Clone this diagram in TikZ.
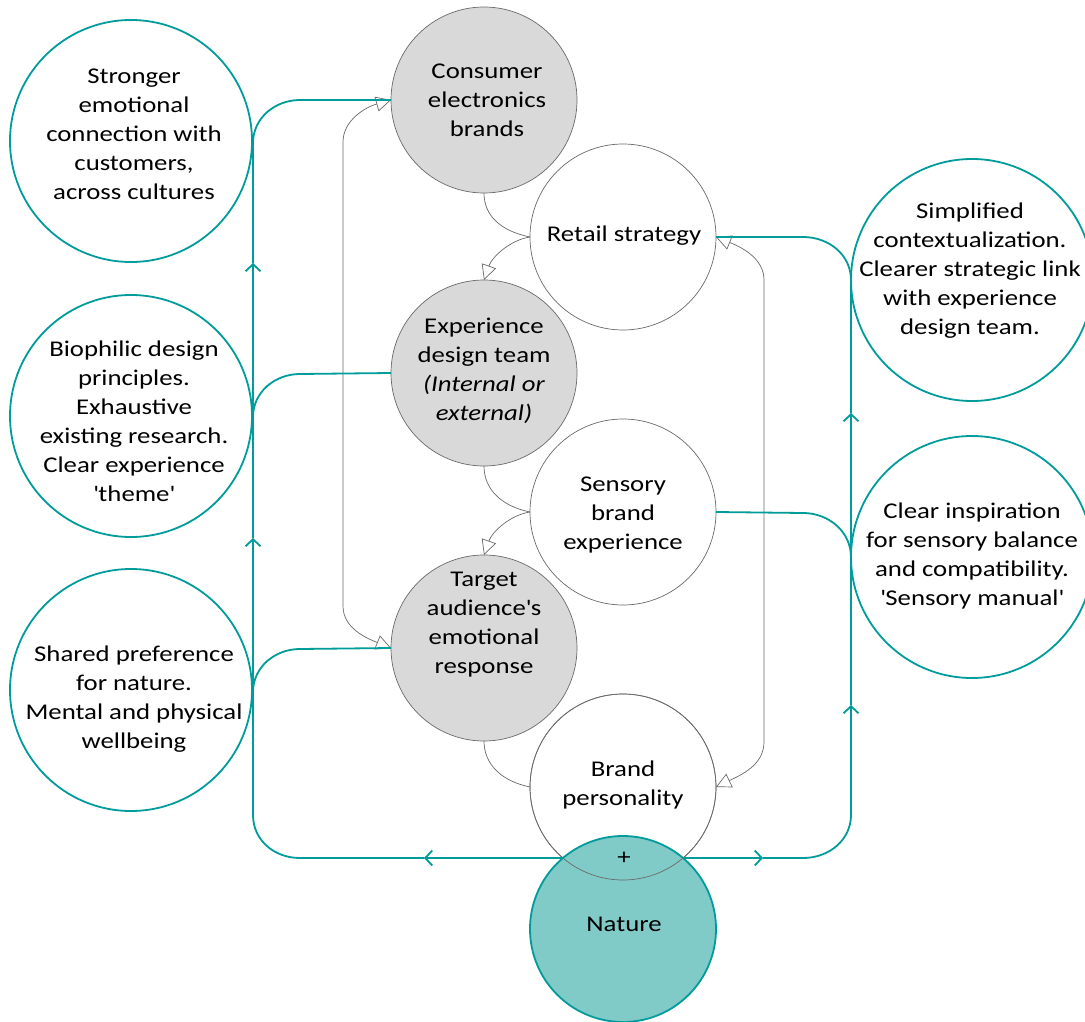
\documentclass[tikz,border=0pt]{standalone}
\usepackage{fontspec}
\setmainfont{Carlito}[FakeStretch=1.19]
\usetikzlibrary{arrows.meta,calc}
\definecolor{tealc}{RGB}{0,155,155}
\definecolor{natfill}{RGB}{128,203,200}
\definecolor{greyfill}{RGB}{217,217,217}
\definecolor{greyline}{RGB}{105,105,105}
\newcommand{\sq}{\textquotesingle}
\begin{document}
\begin{tikzpicture}[x=1pt,y=-1pt,
  inner/.style={circle, draw=greyline, line width=0.7pt, minimum size=186pt, inner sep=0pt, outer sep=0pt},
  core/.style={inner, fill=greyfill},
  midc/.style={inner, fill=white},
  outerc/.style={circle, draw=tealc, line width=1.8pt, fill=white, minimum size=242pt, inner sep=0pt, outer sep=0pt},
  naturec/.style={circle, draw=tealc, line width=1.8pt, fill=natfill, minimum size=186pt, inner sep=0pt, outer sep=0pt},
  lbl/.style={align=center, font=\fontsize{22.5}{29}\selectfont, inner sep=0pt},
  gcon/.style={draw=greyline, line width=0.7pt},
  gtip/.style={-{Triangle[open,length=15pt,width=15pt]}},
  gboth/.style={{Triangle[open,length=15pt,width=15pt]}-{Triangle[open,length=15pt,width=15pt]}},
  tcon/.style={draw=tealc, line width=1.8pt},
  tbarb/.style={-{Straight Barb[length=7pt,width=15pt]}}
]
\useasboundingbox (0,0) rectangle (1085,1022);

% outer teal circles
\node[outerc] (o1) at (131,141) {};
\node[outerc] (o2) at (131,416) {};
\node[outerc] (o3) at (131,690) {};
\node[outerc] (o4) at (972,280) {};
\node[outerc] (o5) at (972,557) {};

% inner circles
\node[core] (c1) at (484,100) {};
\node[midc] (rs) at (623,237) {};
\node[core] (ex) at (484,373) {};
\node[midc] (ss) at (623,512) {};
\node[core] (ta) at (484,648) {};
\node[midc] (bp) at (623,787) {};
\node[naturec] (nat) at (623,929) {};
\draw[gcon] (bp.center) circle[radius=93pt];

% labels
\node[lbl] (t1) at (487,100) {Consumer\\electronics\\brands};
\node[lbl] (t2) at (624,236) {Retail strategy};
\node[lbl] (t3) at (484,371) {Experience\\design team\\\textit{(Internal or}\\\textit{external)}};
\node[lbl] (t4) at (623,515) {Sensory\\brand\\experience};
\node[lbl] (t5) at (484,625) {Target\\audience\sq s\\emotional\\response};
\node[lbl] (t6) at (623,785) {Brand\\personality};
\node[lbl] (t7) at (624,858) {+};
\node[lbl] (t8) at (624,924) {Nature};
\node[lbl] (t9) at (134,134) {Stronger\\emotional\\connection with\\customers,\\across cultures};
\node[lbl] (t10) at (134,421) {Biophilic design\\principles.\\Exhaustive\\existing research.\\Clear experience\\\sq theme\sq};
\node[lbl] (t11) at (134,699) {Shared preference\\for nature.\\Mental and physical\\wellbeing};
\node[lbl] (t12) at (970,271) {Simplified\\contextualization.\\Clearer strategic link\\with experience\\design team.};
\node[lbl] (t13) at (972,556) {Clear inspiration\\for sensory balance\\and compatibility.\\\sq Sensory manual\sq};

% small grey connectors
\draw[gcon] (c1.south) .. controls (484,216) and (501,231) .. (rs.west);
\draw[gcon,gtip] (rs.west) .. controls (510,240) and (492,257) .. (ex.north);
\draw[gcon] (ex.south) .. controls (484,489) and (501,506) .. (ss.west);
\draw[gcon,gtip] (ss.west) .. controls (510,515) and (492,532) .. (ta.north);
\draw[gcon] (ta.south) .. controls (484,764) and (501,781) .. (bp.west);

% big grey loops
\draw[gcon,gboth] (c1.west) .. controls (366,107) and (343,120) .. (343,142) -- (343,606) .. controls (343,628) and (366,638) .. (ta.west);
\draw[gcon,gboth] (rs.east) .. controls (741,247) and (764,258) .. (764,280) -- (764,742) .. controls (764,765) and (741,775) .. (bp.east);

% teal network
\coordinate (nl) at (563,858);
\coordinate (nr) at (683,858);
\draw[tcon,tbarb] (nl) -- (424,858);
\draw[tcon,tbarb] (424,858) -- (300,858) .. controls (274,858) and (253,840) .. (253,815) -- (253,538);
\draw[tcon,tbarb] (253,538) -- (253,263);
\draw[tcon] (253,263) -- (253,143) .. controls (253,118) and (275,100) .. (300,100) -- (c1.west);
\draw[tcon] (253,417) .. controls (253,392) and (275,374) .. (300,374) -- (ex.west);
\draw[tcon] (253,692) .. controls (253,667) and (275,649) .. (300,649) -- (ta.west);

\draw[tcon,tbarb] (nr) -- (763,858);
\draw[tcon,tbarb] (763,858) -- (803,858) .. controls (829,858) and (851,840) .. (851,815) -- (851,705);
\draw[tcon,tbarb] (851,705) -- (851,413);
\draw[tcon] (851,413) -- (851,280) .. controls (851,255) and (829,237) .. (803,237) -- (rs.east);
\draw[tcon] (ss.east) -- (803,513) .. controls (829,513) and (851,532) .. (851,557);
\end{tikzpicture}
\end{document}
